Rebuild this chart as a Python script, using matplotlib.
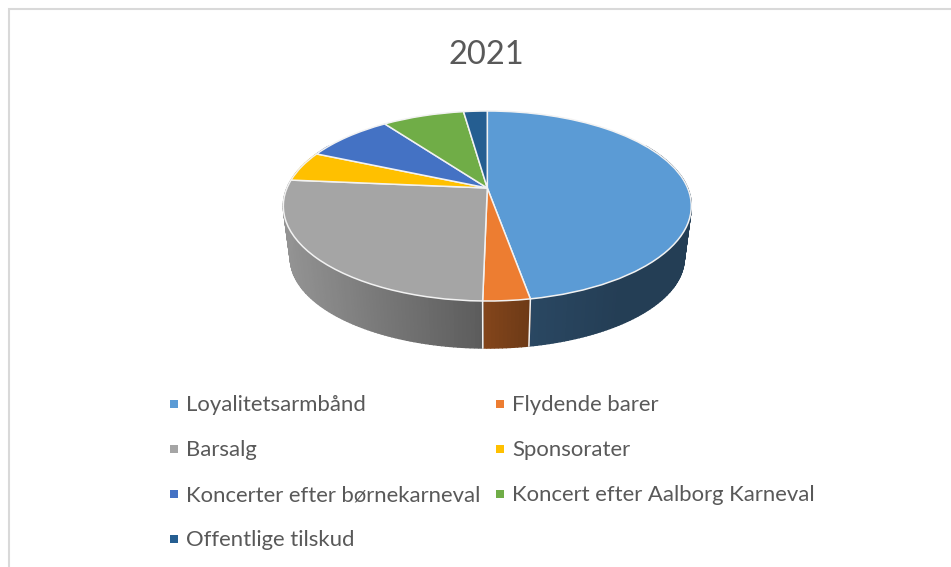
import numpy as np
import matplotlib
matplotlib.use('Agg')
import matplotlib.pyplot as plt
from matplotlib.transforms import Transform

title = '2021'
categories = ['Loyalitetsarmbånd', 'Flydende barer', 'Barsalg', 'Sponsorater',
              'Koncerter efter børnekarneval', 'Koncert efter Aalborg Karneval',
              'Offentlige tilskud']
values = [47.2, 3.1, 26.1, 5.15, 8.4, 7.8, 2.25]
colors = ['#5B9BD5', '#ED7D31', '#A5A5A5', '#FFC000', '#4472C4', '#70AD47', '#255E91']

plt.rcParams['font.family'] = ['Lato', 'DejaVu Sans']
TEXT = '#595959'
K = 0.1895


def tilt(x, y, rx, ry, off, cy):
    # perspective view of the unit circle, result in pixels
    w = 1 + K * y
    return 487.3 + rx * x / w, cy - (ry * y + off) / w


class TopFace(Transform):
    input_dims = 2
    output_dims = 2
    is_affine = False

    def transform_non_affine(self, values):
        x, y = np.asarray(values).T
        return np.column_stack(tilt(x, y, 200.3, 95, 18, 206))


fig = plt.figure(figsize=(9.51, 5.67), dpi=100)
ax = fig.add_axes([0, 0, 1, 1])

wedges, _ = ax.pie(values, colors=colors, startangle=90, counterclock=False, frame=True,
                   wedgeprops={'edgecolor': '#f2f2f2', 'linewidth': 1.1, 'zorder': 3})
to_pixels = TopFace() + ax.transData
for w in wedges:
    w.set_transform(to_pixels)

ax.set_aspect('auto')
ax.set_xlim(0, 951)
ax.set_ylim(567, 0)
ax.axis('off')

# side wall, one thin strip per degree so the shading runs along it
ends = np.cumsum(values) / np.sum(values) * 360
starts = np.concatenate(([0], ends[:-1]))
for a, b, col in zip(starts, ends, colors):
    a, b = max(a, 60), min(b, 300)
    if b <= a:
        continue
    base = np.array(matplotlib.colors.to_rgb(col))
    steps = np.linspace(a, b, max(int(b - a) + 2, 2))
    for t0, t1 in zip(steps[:-1], steps[1:]):
        th = np.radians([t0, t1])
        xt, yt = tilt(np.sin(th), np.cos(th), 200.3, 95, 18, 206)
        xb, yb = tilt(np.sin(th), np.cos(th), 193.4, 90, 17, 258)
        shade = np.interp(xt.mean(), [285, 480, 530, 620, 690], [0.89, 0.56, 0.46, 0.40, 0.40])
        c = base * shade
        ax.fill([xt[0], xt[1], xb[1], xb[0]], [yt[0], yt[1], yb[1], yb[0]],
                color=c, lw=1.0, zorder=1)

# white seams on the wall
for t in ends:
    if 95 < t < 265:
        th = np.radians(t)
        xt, yt = tilt(np.sin(th), np.cos(th), 200.3, 95, 18, 206)
        xb, yb = tilt(np.sin(th), np.cos(th), 193.4, 90, 17, 258)
        ax.plot([xt, xb], [yt, yb], color='#f2f2f2', lw=1.1, zorder=2)

# chart frame, only left and top are in the picture
ax.plot([9, 9, 951], [567, 8.7, 8.7], color='#d9d9d9', lw=1.5, zorder=0, solid_joinstyle='miter')

ax.text(486, 54.5, title, fontsize=23.5, color=TEXT, ha='center', va='center')

legend_x = [174, 500]
legend_y = [404, 449, 494, 539]
for i, (name, col) in enumerate(zip(categories, colors)):
    lx = legend_x[i % 2]
    ly = legend_y[i // 2]
    ax.plot([lx], [ly], marker='s', ms=5.6, color=col, mew=0, ls='none')
    ax.text(lx + 12, ly + 1, name, fontsize=15.9, color=TEXT, ha='left', va='center')

fig.savefig('out.png', dpi=100)
